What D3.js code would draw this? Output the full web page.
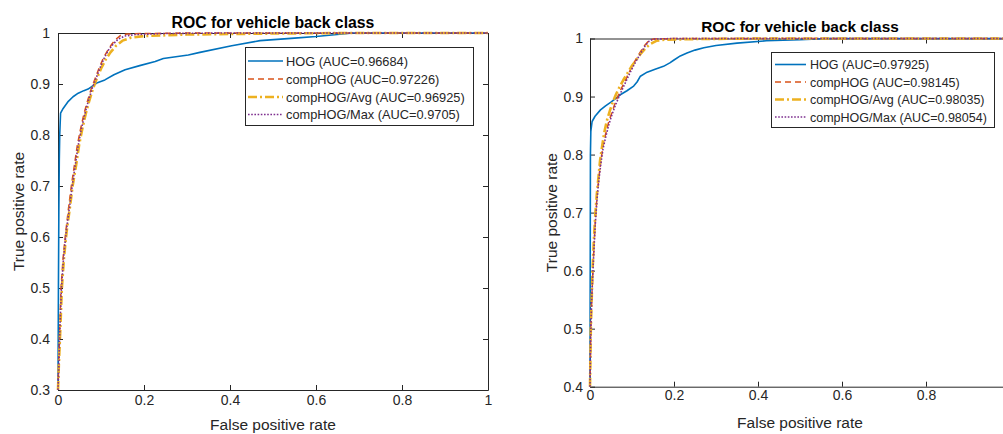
<!DOCTYPE html>
<html><head><meta charset="utf-8">
<script src="https://cdn.jsdelivr.net/npm/d3@7"></script>
<style>html,body{margin:0;padding:0;background:#fff;}svg{display:block;}</style>
</head><body>
<svg id="chart" width="1003" height="434"></svg>
<script>
// ---- data ----
const titleText = "ROC for vehicle back class";
const xLabel = "False positive rate";
const yLabel = "True positive rate";
const seriesNames = ["HOG", "compHOG", "compHOG/Avg", "compHOG/Max"];
const leftAUC = ["0.96684", "0.97226", "0.96925", "0.9705"];
const rightAUC = ["0.97925", "0.98145", "0.98035", "0.98054"];
const xTickValues = [0, 0.2, 0.4, 0.6, 0.8, 1];
const leftYTickValues = [0.3, 0.4, 0.5, 0.6, 0.7, 0.8, 0.9, 1];
const rightYTickValues = [0.4, 0.5, 0.6, 0.7, 0.8, 0.9, 1];

const leftHOG = [[0,0.3],[0.001,0.5],[0.002,0.65],[0.003,0.75],[0.004,0.8],[0.006,0.843],[0.012,0.852],[0.024,0.866],[0.035,0.875],[0.047,0.882],[0.06,0.887],[0.07,0.89],[0.08,0.896],[0.09,0.902],[0.109,0.908],[0.13,0.918],[0.156,0.928],[0.19,0.936],[0.226,0.944],[0.245,0.95],[0.303,0.957],[0.33,0.962],[0.404,0.975],[0.47,0.985],[0.55,0.99],[0.6,0.993],[0.686,1],[1,1]];
const leftComp = [[0,0.3],[0.002,0.36],[0.004,0.42],[0.007,0.5],[0.012,0.56],[0.018,0.61],[0.025,0.66],[0.031,0.7],[0.038,0.74],[0.045,0.78],[0.052,0.81],[0.06,0.84],[0.068,0.865],[0.077,0.89],[0.086,0.91],[0.095,0.93],[0.105,0.95],[0.115,0.965],[0.125,0.978],[0.135,0.988],[0.145,0.995],[0.16,0.998],[0.2,0.999],[0.3,1],[1,1]];
const leftAvg = [[0,0.3],[0.002,0.35],[0.005,0.41],[0.009,0.5],[0.014,0.56],[0.02,0.61],[0.028,0.66],[0.034,0.7],[0.042,0.74],[0.049,0.78],[0.056,0.81],[0.064,0.84],[0.072,0.865],[0.081,0.89],[0.09,0.91],[0.1,0.93],[0.111,0.948],[0.122,0.962],[0.135,0.975],[0.15,0.985],[0.17,0.991],[0.2,0.994],[0.3,0.997],[0.5,0.999],[0.7,1],[1,1]];
const leftMax = [[0,0.3],[0.002,0.35],[0.004,0.41],[0.008,0.5],[0.013,0.56],[0.019,0.61],[0.027,0.66],[0.033,0.7],[0.04,0.74],[0.047,0.78],[0.054,0.81],[0.062,0.84],[0.07,0.865],[0.079,0.89],[0.088,0.91],[0.097,0.93],[0.107,0.95],[0.117,0.966],[0.128,0.978],[0.14,0.988],[0.155,0.994],[0.18,0.997],[0.25,0.999],[0.4,1],[1,1]];

const rightHOG = [[0,0.4],[0.0005,0.6],[0.001,0.8],[0.002,0.84],[0.005,0.857],[0.012,0.866],[0.025,0.877],[0.037,0.884],[0.049,0.89],[0.06,0.896],[0.072,0.903],[0.088,0.91],[0.104,0.918],[0.112,0.925],[0.12,0.935],[0.136,0.942],[0.155,0.947],[0.175,0.952],[0.19,0.958],[0.2,0.963],[0.215,0.97],[0.231,0.975],[0.25,0.98],[0.271,0.984],[0.3,0.988],[0.35,0.992],[0.42,0.996],[0.5,0.998],[0.57,1],[1,1]];
const rightComp = [[0,0.4],[0.001,0.45],[0.002,0.5],[0.004,0.55],[0.007,0.6],[0.01,0.65],[0.013,0.69],[0.017,0.73],[0.021,0.76],[0.026,0.79],[0.031,0.815],[0.037,0.835],[0.044,0.855],[0.051,0.87],[0.058,0.885],[0.066,0.9],[0.074,0.913],[0.083,0.926],[0.092,0.94],[0.101,0.953],[0.11,0.965],[0.12,0.977],[0.13,0.988],[0.14,0.996],[0.15,0.999],[0.2,1],[1,1]];
const rightAvg = [[0,0.4],[0.001,0.45],[0.002,0.5],[0.004,0.55],[0.006,0.6],[0.009,0.65],[0.012,0.69],[0.016,0.73],[0.02,0.76],[0.024,0.79],[0.029,0.815],[0.034,0.838],[0.04,0.858],[0.047,0.875],[0.054,0.89],[0.062,0.904],[0.07,0.916],[0.079,0.928],[0.089,0.94],[0.099,0.952],[0.11,0.963],[0.121,0.974],[0.133,0.984],[0.145,0.991],[0.158,0.996],[0.18,0.998],[0.25,0.999],[0.4,1],[1,1]];
const rightMax = [[0,0.4],[0.001,0.45],[0.002,0.5],[0.004,0.55],[0.007,0.6],[0.01,0.645],[0.013,0.685],[0.017,0.725],[0.021,0.756],[0.026,0.785],[0.031,0.81],[0.038,0.832],[0.045,0.852],[0.052,0.868],[0.06,0.884],[0.068,0.898],[0.076,0.911],[0.085,0.925],[0.094,0.939],[0.103,0.952],[0.112,0.964],[0.122,0.976],[0.131,0.987],[0.14,0.995],[0.15,0.999],[0.2,1],[1,1]];

// ---- styles ----
const FONT = "'Liberation Sans', Arial, Helvetica, sans-serif";
const styles = [
  {color: "#0072BD", width: 1.6, dash: null},
  {color: "#D95319", width: 1.5, dash: "6,4"},
  {color: "#EDB120", width: 2.6, dash: "9,3,2,3"},
  {color: "#7E2F8E", width: 1.6, dash: "1.6,1.6"}
];
const AXC = "#262626";
const W = 1003;

const svg = d3.select("#chart");

const panels = [
  {id: "L", x0: 58, x1: 488, y0: 390, y1: 33, ydom: [0.3, 1], yticks: leftYTickValues,
   series: [leftHOG, leftComp, leftAvg, leftMax], auc: leftAUC,
   titleY: 27.5, titleSize: 15.8, xlabY: 430, ylabX: 24, xPad: 5, yPad: 8,
   leg: {x: 245, y: 47, w: 228, h: 78, rows: [61, 79, 97, 114.5], lx0: 248, lx1: 283, tx: 286, fs: 12.8}},
  {id: "R", x0: 590, x1: 1010, y0: 386.7, y1: 38.5, ydom: [0.4, 1], yticks: rightYTickValues,
   series: [rightHOG, rightComp, rightAvg, rightMax], auc: rightAUC,
   titleY: 31.5, titleSize: 15.4, xlabY: 428, ylabX: 557, xPad: 3.5, yPad: 7,
   leg: {x: 771, y: 52, w: 223, h: 75, rows: [64.5, 82, 99.5, 117], lx0: 775, lx1: 806, tx: 810, fs: 12.5}}
];

const fmt = d => d3.format("~g")(d);

panels.forEach(p => {
  const x = d3.scaleLinear().domain([0, 1]).range([p.x0, p.x1]);
  const y = d3.scaleLinear().domain(p.ydom).range([p.y0, p.y1]);
  const g = svg.append("g");

  svg.append("defs").append("clipPath").attr("id", "clip" + p.id)
    .append("rect").attr("x", p.x0 - 3).attr("y", p.y1 - 3)
    .attr("width", p.x1 - p.x0 + 6).attr("height", p.y0 - p.y1 + 6);

  const styleAxis = (sel, fs) => {
    sel.attr("font-family", FONT).attr("font-size", fs);
    sel.select(".domain").attr("stroke", AXC).attr("stroke-width", 1);
    sel.selectAll(".tick line").attr("stroke", AXC).attr("stroke-width", 1);
    sel.selectAll(".tick text").attr("fill", AXC);
  };

  // only label the ticks that fall inside the visible page
  const visibleFmt = d => (x(d) + 6 <= W ? fmt(d) : "");

  g.append("g").attr("transform", `translate(0,${p.y0})`)
    .call(d3.axisBottom(x).tickValues(xTickValues).tickFormat(visibleFmt).tickSizeInner(-5).tickSizeOuter(0).tickPadding(p.xPad))
    .call(s => styleAxis(s, 14));
  g.append("g").attr("transform", `translate(0,${p.y1})`)
    .call(d3.axisTop(x).tickValues(xTickValues).tickFormat("").tickSizeInner(-5).tickSizeOuter(0))
    .call(s => styleAxis(s, 14));
  g.append("g").attr("transform", `translate(${p.x0},0)`)
    .call(d3.axisLeft(y).tickValues(p.yticks).tickFormat(fmt).tickSizeInner(-5).tickSizeOuter(0).tickPadding(p.yPad))
    .call(s => styleAxis(s, 14));
  g.append("g").attr("transform", `translate(${p.x1},0)`)
    .call(d3.axisRight(y).tickValues(p.yticks).tickFormat("").tickSizeInner(-5).tickSizeOuter(0))
    .call(s => styleAxis(s, 14));
  g.selectAll(".tick text").filter(function(){ return this.textContent === ""; }).remove();

  const line = d3.line().x(d => x(d[0])).y(d => y(d[1]));
  const cg = g.append("g").attr("clip-path", `url(#clip${p.id})`);
  p.series.forEach((s, i) => {
    const st = styles[i];
    cg.append("path").datum(s).attr("d", line)
      .attr("fill", "none").attr("stroke", st.color).attr("stroke-width", st.width)
      .attr("stroke-dasharray", st.dash).attr("stroke-linejoin", "round");
  });

  g.append("text").attr("x", (p.x0 + p.x1) / 2).attr("y", p.titleY)
    .attr("text-anchor", "middle").attr("font-family", FONT).attr("font-weight", "bold")
    .attr("font-size", p.titleSize).attr("fill", "#000").text(titleText);
  g.append("text").attr("x", (p.x0 + p.x1) / 2).attr("y", p.xlabY)
    .attr("text-anchor", "middle").attr("font-family", FONT)
    .attr("font-size", 15.5).attr("fill", AXC).text(xLabel);
  g.append("text").attr("transform", `translate(${p.ylabX},${(p.y0 + p.y1) / 2}) rotate(-90)`)
    .attr("text-anchor", "middle").attr("font-family", FONT)
    .attr("font-size", 15.5).attr("fill", AXC).text(yLabel);

  const L = p.leg;
  const lg = g.append("g");
  lg.append("rect").attr("x", L.x + 0.5).attr("y", L.y + 0.5).attr("width", L.w).attr("height", L.h)
    .attr("fill", "#fff").attr("stroke", AXC).attr("stroke-width", 1);
  seriesNames.forEach((n, i) => {
    const st = styles[i];
    lg.append("line").attr("x1", L.lx0).attr("x2", L.lx1).attr("y1", L.rows[i]).attr("y2", L.rows[i])
      .attr("stroke", st.color).attr("stroke-width", st.width).attr("stroke-dasharray", st.dash);
    lg.append("text").attr("x", L.tx).attr("y", L.rows[i]).attr("dy", "0.36em")
      .attr("font-family", FONT).attr("font-size", L.fs).attr("fill", AXC)
      .text(`${n} (AUC=${p.auc[i]})`);
  });
});
</script>
</body></html>
